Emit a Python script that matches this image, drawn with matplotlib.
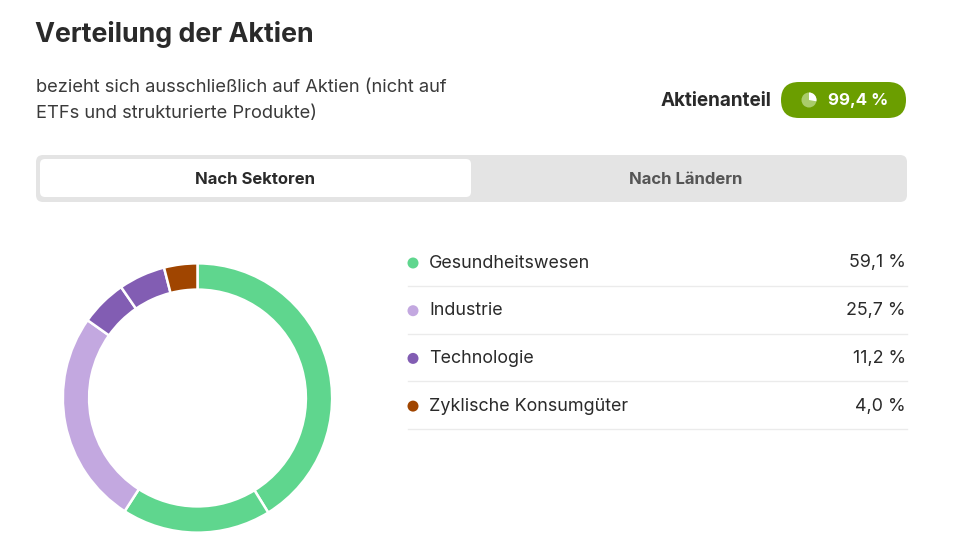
import matplotlib.pyplot as plt
from matplotlib.patches import FancyBboxPatch, Circle, Wedge

plt.rcParams['font.family'] = ['Inter', 'DejaVu Sans']

# legend data
sectors = ["Gesundheitswesen", "Industrie", "Technologie", "Zyklische Konsumgüter"]
sector_values = [59.1, 25.7, 11.2, 4.0]
sector_colors = ["#5fd68e", "#c3a8e0", "#825db3", "#a04500"]

# ring pieces (individual positions, coloured by sector)
segment_values = [41.2, 17.9, 25.7, 5.6, 5.6, 4.0]
segment_sector = [0, 0, 1, 2, 2, 3]

stock_share = 99.4

W, H = 979, 560
fig = plt.figure(figsize=(W / 100, H / 100), dpi=100)
fig.patch.set_facecolor("white")

# pixel-space canvas for the card
ax = fig.add_axes([0, 0, 1, 1])
ax.set_xlim(0, W)
ax.set_ylim(H, 0)
ax.axis("off")

dark = "#2a2a2a"

ax.text(35, 34, "Verteilung der Aktien", fontsize=19.3, fontweight="bold",
        color=dark, va="center", ha="left")
ax.text(36, 87, "bezieht sich ausschließlich auf Aktien (nicht auf",
        fontsize=13.2, color="#3a3a3a", va="center", ha="left")
ax.text(36, 114, "ETFs und strukturierte Produkte)",
        fontsize=13.2, color="#3a3a3a", va="center", ha="left")

# stock share badge
ax.text(771, 101, "Aktienanteil", fontsize=13.6, fontweight="bold",
        color=dark, va="center", ha="right")
ax.add_patch(FancyBboxPatch((781, 82), 125, 36,
                            boxstyle="round,pad=0,rounding_size=18",
                            fc="#6b9e00", ec="none"))
ax.add_patch(Circle((809, 100), 7.5, fc="#a9cc6a", ec="none"))
ax.add_patch(Wedge((809, 100), 7.5, -90, 10, fc="white", ec="none"))
ax.text(858, 101, f"{stock_share:.1f} %".replace(".", ","), fontsize=12.2,
        fontweight="bold", color="white", va="center", ha="center")

# tab switch
ax.add_patch(FancyBboxPatch((36, 155), 871, 47,
                            boxstyle="round,pad=0,rounding_size=7",
                            fc="#e4e4e4", ec="none"))
ax.add_patch(FancyBboxPatch((40, 159), 431, 38,
                            boxstyle="round,pad=0,rounding_size=5",
                            fc="white", ec="none"))
ax.text(255, 180, "Nach Sektoren", fontsize=12, fontweight="bold",
        color=dark, va="center", ha="center")
ax.text(686, 180, "Nach Ländern", fontsize=12, fontweight="bold",
        color="#555555", va="center", ha="center")

# legend rows
row_y0, row_step = 263, 47.7
for i, (name, val, col) in enumerate(zip(sectors, sector_values, sector_colors)):
    y = row_y0 + i * row_step
    ax.add_patch(Circle((413, y), 5.5, fc=col, ec="none"))
    ax.text(429, y, name, fontsize=12.9, color=dark, va="center", ha="left")
    ax.text(906, y, f"{val:.1f} %".replace(".", ","), fontsize=12.9,
            color=dark, va="center", ha="right")
    ax.plot([408, 907], [y + 23, y + 23], color="#ebebeb", lw=1)

# donut
cx, cy, r = 197.5, 398, 136
pax = fig.add_axes([(cx - r) / W, (H - cy - r) / H, 2 * r / W, 2 * r / H])
pax.pie(segment_values,
        colors=[sector_colors[s] for s in segment_sector],
        startangle=90, counterclock=False, radius=1,
        wedgeprops=dict(width=0.195, edgecolor="white", linewidth=1.8))
pax.set_xlim(-1.01, 1.01)
pax.set_ylim(-1.01, 1.01)
pax.set_aspect("equal")
pax.axis("off")

fig.savefig("out.png", dpi=100, facecolor="white")
